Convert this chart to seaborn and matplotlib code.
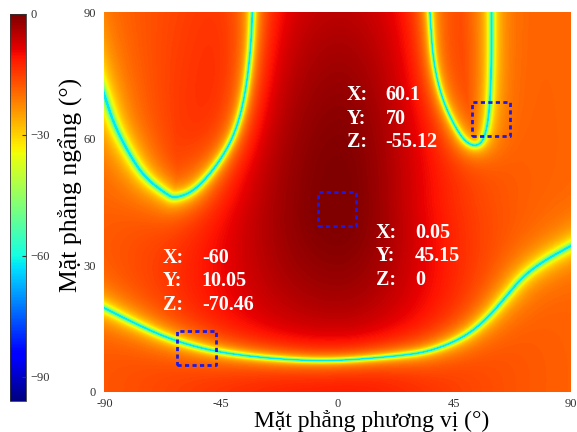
import numpy as np
import seaborn as sns
import matplotlib
matplotlib.use('Agg')
import matplotlib.pyplot as plt

# null curves (azimuth deg, elevation deg)
left_u_x = [-90, -86.4, -81.3, -74.8, -65.8, -62.6, -55.6, -47.9, -41.4, -37.6, -35.0, -33.4, -32.9]
left_u_y = [70.3, 63.6, 57.3, 51.0, 46.7, 45.9, 47.5, 52.6, 58.9, 65.2, 73.1, 82.6, 90]
right_u_x = [35.7, 36.9, 40.1, 44.7, 49.2, 53.7, 56.9, 58.8, 59.5, 59.5]
right_u_y = [90, 78.6, 70.0, 63.6, 59.3, 58.1, 60.1, 66.8, 78.6, 90]
bottom_x = [-90, -78.7, -65.8, -53, -40.2, -20.9, -1.6, 22.8, 35.7, 48.5, 57.5, 65.2, 71.6, 79.4, 89.6]
bottom_y = [19.8, 16.3, 12.7, 10.3, 8.8, 7.6, 7.2, 8.4, 9.5, 12.7, 17.1, 22.6, 27.3, 30.9, 34.4]
# halo width / core width of each null, px
null_halo = [34, 24, 28]
null_core = [4.5, 3.0, 3.5]

# main beam and side level (dB)
peak_x, peak_y = 0, 45
side_level = 19

# data tips
tip_x = [60.1, 0.05, -60]
tip_y = [70, 45.15, 10.05]
tip_z = [-55.12, 0, -70.46]
tip_text_x = [3.6, 14.9, -67.4]
tip_text_y = [70.3, 37.7, 31.7]

# dashed marker boxes [x0, x1, y0, y1]
box_x0 = [51.8, -7.4, -62.0]
box_x1 = [66.5, 7.1, -46.9]
box_y0 = [60.6, 39.4, 6.2]
box_y1 = [68.8, 47.4, 14.4]

xticks = [-90, -45, 0, 45, 90]
yticks = [0, 30, 60, 90]
cticks = [0, -30, -60, -90]

SERIF = ['Liberation Serif', 'DejaVu Serif']


def chaikin(x, y, n=3):
    pts = np.column_stack([x, y]).astype(float)
    # extend the ends a little so the null keeps going past the frame
    pts = np.vstack([pts[0] + (pts[0] - pts[1]) * 3, pts, pts[-1] + (pts[-1] - pts[-2]) * 3])
    for _ in range(n):
        q = 0.75 * pts[:-1] + 0.25 * pts[1:]
        r = 0.25 * pts[:-1] + 0.75 * pts[1:]
        new = np.empty((2 * len(q), 2))
        new[0::2] = q
        new[1::2] = r
        pts = np.vstack([pts[0], new, pts[-1]])
    return pts


def seg_dist(gx, gy, pts):
    d = np.full(gx.shape, np.inf)
    for (ax_, ay_), (bx_, by_) in zip(pts[:-1], pts[1:]):
        dx, dy = bx_ - ax_, by_ - ay_
        t = np.clip(((gx - ax_) * dx + (gy - ay_) * dy) / (dx * dx + dy * dy), 0, 1)
        d = np.minimum(d, np.hypot(gx - ax_ - t * dx, gy - ay_ - t * dy))
    return d


xs = np.linspace(-90, 90, 467)
ys = np.linspace(0, 90, 380)
X, Y = np.meshgrid(xs, ys)
KX, KY = 2.594, 4.222  # px per degree

v = (Y - peak_y) / 45
u = (X - peak_x) / 90
su = np.where(u < 0, 0.6, 0.465) * np.where(v < 0, 1 - 0.3 * v, 1)
sv = np.where(v < 0, 1.16, 1.81)
db = -side_level * (1 - np.exp(-((u / su) ** 2 + (v / sv) ** 2)))

amp = np.ones_like(X)
curves = [(left_u_x, left_u_y), (right_u_x, right_u_y), (bottom_x, bottom_y)]
for (cx, cy), w, c in zip(curves, null_halo, null_core):
    p = chaikin(np.array(cx) * KX, np.array(cy) * KY)
    d = seg_dist(X * KX, Y * KY, p)
    amp *= np.tanh(d / w) * np.tanh(d / c)
db = db + 20 * np.log10(np.maximum(amp, 1e-6))
db = np.maximum(db, -62)
db -= db.max()

dxs = xs[1] - xs[0]
dys = ys[1] - ys[0]


def fx(x):
    return (np.asarray(x) - xs[0]) / dxs + 0.5


def fy(y):
    return (np.asarray(y) - ys[0]) / dys + 0.5


fig = plt.figure(figsize=(5.77, 4.32), dpi=100)
ax = fig.add_axes([104 / 577, 1 - 392 / 432, 467 / 577, 380 / 432])
cax = fig.add_axes([10 / 577, 1 - 401 / 432, 16 / 577, 387 / 432])

sns.heatmap(db, ax=ax, cbar_ax=cax, cmap='jet', vmin=-96, vmax=0,
            xticklabels=False, yticklabels=False,
            cbar_kws={'ticks': cticks})
ax.invert_yaxis()

ax.set_xticks(fx(xticks))
ax.set_xticklabels([str(t) for t in xticks], family=SERIF, fontsize=9, color='#333333')
ax.set_yticks(fy(yticks))
ax.set_yticklabels([str(t) for t in yticks], family=SERIF, fontsize=9, color='#333333')
ax.tick_params(axis='x', length=0, pad=4)
ax.tick_params(axis='y', length=0, pad=6)
for s in ax.spines.values():
    s.set_visible(False)

ax.set_xlabel('Mặt phẳng phương vị (°)', family=SERIF, fontsize=17)
ax.xaxis.set_label_coords(0.574, -0.047)
ax.set_ylabel('Mặt phẳng ngẩng (°)', family=SERIF, fontsize=18.5)
ax.yaxis.set_label_coords(-0.045, 0.545)

for x0_, x1_, y0_, y1_ in zip(box_x0, box_x1, box_y0, box_y1):
    bx = fx([x0_, x1_, x1_, x0_, x0_])
    by = fy([y0_, y0_, y1_, y1_, y0_])
    ax.plot(bx, by, color='#1a1ae6', lw=2, ls=(0, (1.5, 1.2)))

line_gap = 5.57
for tx, ty, zx, zy, zz in zip(tip_text_x, tip_text_y, tip_x, tip_y, tip_z):
    for k, (lab, val) in enumerate([('X:', zx), ('Y:', zy), ('Z:', zz)]):
        yy = fy(ty - k * line_gap)
        ax.text(fx(tx), yy, lab, color='white', fontsize=14.5, fontweight='bold',
                family=SERIF, va='center', ha='left')
        ax.text(fx(tx + 15), yy, f'{val:g}', color='white', fontsize=14.5, fontweight='bold',
                family=SERIF, va='center', ha='left')

cbar = ax.collections[0].colorbar
cbar.ax.tick_params(labelsize=9, length=3, direction='in', colors='#333333')
for t in cbar.ax.get_yticklabels():
    t.set_family(SERIF)
cbar.outline.set_linewidth(0.6)
cbar.outline.set_edgecolor('#333333')

plt.savefig('out.png', dpi=100)
